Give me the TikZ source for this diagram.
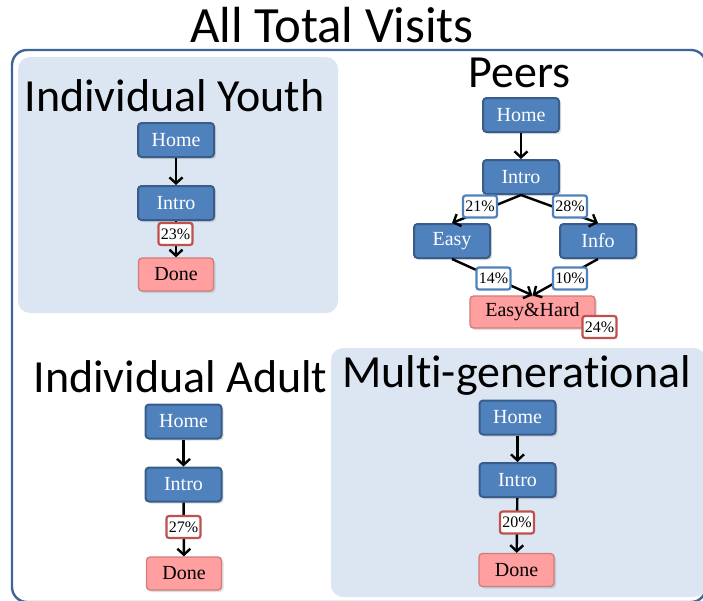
\documentclass[tikz,border=0pt]{standalone}
\usepackage{fontspec}
\setmainfont{Liberation Serif}
\newfontfamily\headfont[Ligatures={NoCommon}]{Carlito}
\usetikzlibrary{arrows.meta,shadows}

\definecolor{boxblue}{HTML}{4F81BD}
\definecolor{boxedge}{HTML}{385D8A}
\definecolor{donefill}{HTML}{FF9F9F}
\definecolor{doneedge}{HTML}{C0504D}
\definecolor{panelfill}{HTML}{DCE6F2}
\definecolor{framecol}{HTML}{3E6596}

\tikzset{
  stepbox/.style={draw=boxedge, fill=boxblue, line width=2pt, rounded corners=3.5pt,
    minimum width=76pt, minimum height=34pt, inner sep=0pt, text=white,
    font=\fontsize{20}{22}\selectfont,
    drop shadow={opacity=0.25, shadow xshift=2pt, shadow yshift=-2pt}},
  donebox/.style={stepbox, draw=doneedge!75, fill=donefill, text=black, line width=1.3pt,
    minimum width=75pt, minimum height=33pt},
  pctred/.style={draw=doneedge, fill=white, line width=2.2pt, rounded corners=2.5pt,
    minimum width=34pt, minimum height=22pt, inner sep=0pt,
    font=\fontsize{16}{18}\selectfont},
  pctblue/.style={pctred, draw=boxblue},
  flow/.style={line width=2.4pt, -{Straight Barb[length=6pt,width=13pt]}},
  panel/.style={fill=panelfill, rounded corners=12pt},
  heading/.style={font=\headfont\fontsize{46}{50}\selectfont, inner sep=0pt, anchor=base},
}

\begin{document}
\begin{tikzpicture}[x=1pt, y=-1pt]
  \useasboundingbox (0,0) rectangle (703,600);
  \begin{scope}
    \clip (0,0) rectangle (703,600);

    % outer frame and the two shaded panels
    \draw[framecol, line width=2.4pt, rounded corners=15pt] (12,50) rectangle (706,602);
    \fill[panel] (18,57) rectangle (338,313);
    \fill[panel] (331,348) rectangle (706,597);

    % headings
    \node[heading, font=\headfont\fontsize{50.8}{54}\selectfont] (ttl) at (332,42) {All Total Visits};
    \node[heading] (hyouth) at (174.5,111) {Individual Youth};
    \node[heading] (hpeers) at (519.5,87) {Peers};
    \node[heading] (hadult) at (180.5,392) {Individual Adult};
    \node[heading] (hmulti) at (516.5,387) {Multi-generational};

    % individual youth
    \node[stepbox] (yhome) at (176,140) {Home};
    \node[stepbox] (yintro) at (176,203) {Intro};
    \node[donebox] (ydone) at (176,274.5) {Done};
    \draw[flow] (yhome) -- (yintro);
    \draw[flow] (yintro) -- (ydone);
    \node[pctred] (ypct) at (175.5,234) {23\%};

    % peers
    \node[stepbox] (phome) at (521,115) {Home};
    \node[stepbox] (pintro) at (521,177) {Intro};
    \node[stepbox] (peasy) at (452,241) {Easy};
    \node[stepbox] (pinfo) at (598,241) {Info};
    \node[donebox, minimum width=125pt, minimum height=32pt] (pdone) at (532.5,312) {Easy\&Hard};
    \draw[flow] (phome) -- (pintro);
    \draw[flow] (pintro.south) -- (peasy.north);
    \draw[flow] (pintro.south) -- (pinfo.north);
    \draw[flow] (peasy.south) -- (pdone.north);
    \draw[flow] (pinfo.south) -- (pdone.north);
    \node[pctblue] (p21) at (480,206.5) {21\%};
    \node[pctblue] (p28) at (570,206.5) {28\%};
    \node[pctblue] (p14) at (493.5,278.5) {14\%};
    \node[pctblue] (p10) at (570,278.5) {10\%};
    \node[pctred] (p24) at (599.5,327) {24\%};

    % individual adult
    \node[stepbox] (ahome) at (183.5,421.5) {Home};
    \node[stepbox] (aintro) at (183.5,484.5) {Intro};
    \node[donebox] (adone) at (184,573.5) {Done};
    \draw[flow] (ahome) -- (aintro);
    \draw[flow] (aintro) -- (adone);
    \node[pctred] (apct) at (183.5,527) {27\%};

    % multi-generational
    \node[stepbox] (mhome) at (517.5,417.5) {Home};
    \node[stepbox] (mintro) at (517.5,480) {Intro};
    \node[donebox] (mdone) at (516.5,570) {Done};
    \draw[flow] (mhome) -- (mintro);
    \draw[flow] (mintro) -- (mdone);
    \node[pctred] (mpct) at (517,522.5) {20\%};
  \end{scope}
\end{tikzpicture}
\end{document}
